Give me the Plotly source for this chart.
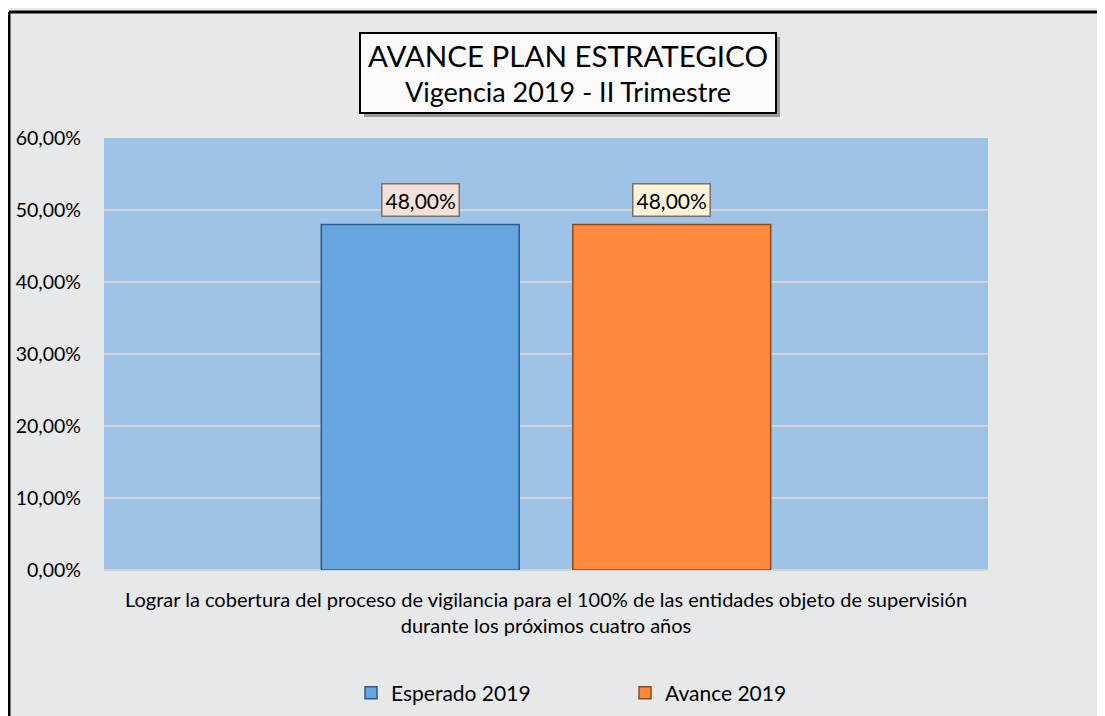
import plotly.graph_objects as go

categories = ["Lograr la cobertura del proceso de vigilancia para el 100% de las entidades objeto de supervisión<br>durante los próximos cuatro años"]
series_names = ["Esperado 2019", "Avance 2019"]
esperado = [0.48]
avance = [0.48]
series_values = [esperado, avance]
bar_colors = ["#65A6E0", "#FD8A3C"]
edge_colors = ["#2E5C86", "#8A4A1C"]
label_bg = ["#F2E1D8", "#FBF3DA"]
tick_vals = [0, 0.1, 0.2, 0.3, 0.4, 0.5, 0.6]
title_lines = ["AVANCE PLAN ESTRATEGICO", "Vigencia 2019 - II Trimestre"]

W, H = 1105, 716
OFF = 8  # page body margin
# plot area in screen pixels
SL, SR, ST, SB = 104, 988, 138, 570
L, R, T, B = SL - OFF, SR - OFF, ST - OFF, SB - OFF
FONT = "Lato, 'Open Sans', sans-serif"


def px(xs):
    return (xs - SL) / (SR - SL)


def py(ys):
    return (SB - ys) / (SB - ST)


bargap = 0.431
bargroupgap = 0.213

fig = go.Figure()
for name, vals, c, ec in zip(series_names, series_values, bar_colors, edge_colors):
    fig.add_trace(go.Bar(
        x=categories, y=vals, name=name,
        marker=dict(color=c, line=dict(color=ec, width=1.5)),
    ))

# value labels
slot = (1 - bargap) / len(series_names)
for i, (vals, bg) in enumerate(zip(series_values, label_bg)):
    for j, v in enumerate(vals):
        xoff = j - (1 - bargap) / 2 + slot * (i + 0.5)
        fig.add_annotation(
            x=xoff, y=v, xref="x", yref="y",
            text=f"{v*100:.2f}%".replace(".", ","),
            showarrow=False, yanchor="bottom", yshift=7,
            font=dict(family=FONT, size=21, color="black"),
            bgcolor=bg, bordercolor="#7D6E66", borderwidth=1.5, borderpad=3,
        )

shapes = [
    # frame lines
    dict(type="line", xref="paper", yref="paper", x0=px(9), x1=px(W + 20), y0=py(12), y1=py(12),
         line=dict(color="black", width=3)),
    dict(type="line", xref="paper", yref="paper", x0=px(9), x1=px(9), y0=py(12), y1=py(H + 20),
         line=dict(color="black", width=3)),
    # title box shadow
    dict(type="rect", xref="paper", yref="paper", x0=px(364), x1=px(780), y0=py(37), y1=py(117),
         fillcolor="#9A9A9A", line=dict(width=0), layer="above"),
    # title box
    dict(type="rect", xref="paper", yref="paper", x0=px(360), x1=px(776), y0=py(33), y1=py(113),
         fillcolor="#FAFAFA", line=dict(color="black", width=2), layer="above"),
]
fig.update_layout(shapes=shapes)

fig.add_annotation(
    xref="paper", yref="paper", x=px(568), y=py(73), xanchor="center", yanchor="middle",
    text=f"<span style='font-size:29.5px'>{title_lines[0]}</span><br>{title_lines[1]}",
    showarrow=False, align="center",
    font=dict(family=FONT, size=27, color="black"),
)

fig.update_layout(
    width=W, height=H,
    margin=dict(l=L, r=W - R, t=T, b=H - B, autoexpand=False),
    paper_bgcolor="#E7E8EA", plot_bgcolor="#9DC3E6",
    separators=",.",
    barmode="group", bargap=bargap, bargroupgap=bargroupgap,
    font=dict(family=FONT, color="black"),
    showlegend=True,
    legend=dict(orientation="h", x=px(351), xanchor="left", y=py(693), yanchor="middle",
                font=dict(family=FONT, size=21, color="black"), entrywidth=229,
                bgcolor="rgba(0,0,0,0)", itemwidth=30),
    xaxis=dict(showgrid=False, zeroline=False, showline=False, ticks="", automargin=False,
               tickfont=dict(family=FONT, size=20, color="black"), ticklabelstandoff=16),
    yaxis=dict(range=[0, 0.6], tickvals=tick_vals, tickformat=".2%", automargin=False,
               showgrid=True, gridcolor="#D4D4D4", gridwidth=2, zeroline=True,
               zerolinecolor="#D4D4D4", zerolinewidth=2, showline=False, ticks="",
               tickfont=dict(family=FONT, size=19.5, color="black"), ticklabelstandoff=22),
)

fig.write_html("out.html")
